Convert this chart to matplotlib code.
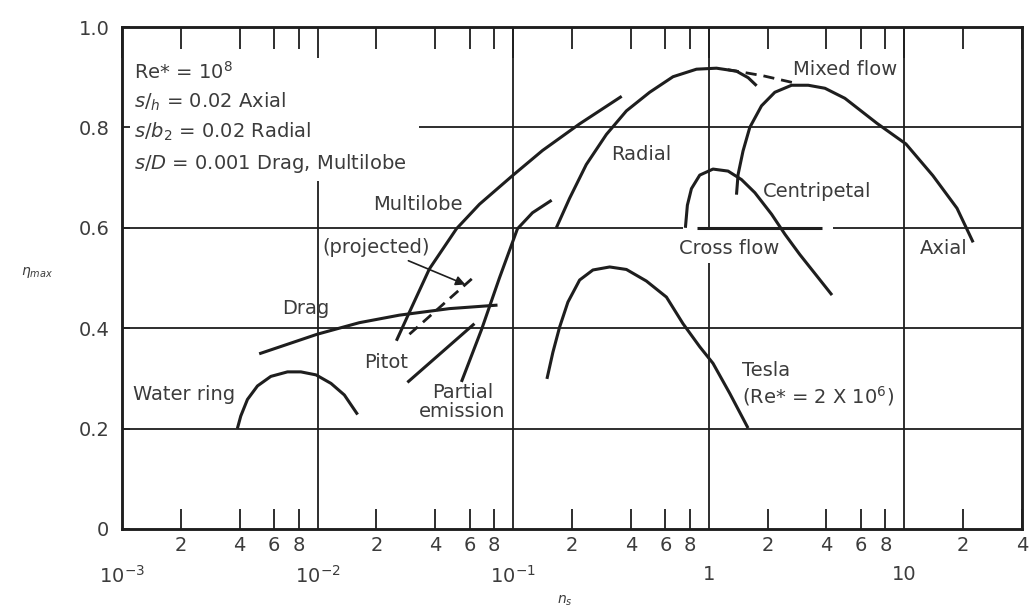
import matplotlib.pyplot as plt

INK = "#1e1e1e"
TEXT = "#3c3c3c"

# efficiency curves, specific speed n_s vs eta_max
water_ring_x = [0.00389, 0.00405, 0.00438, 0.00493, 0.00577, 0.00702, 0.00822, 0.00982, 0.01172, 0.01371, 0.01603]
water_ring_y = [0.200, 0.225, 0.258, 0.285, 0.304, 0.313, 0.313, 0.307, 0.290, 0.267, 0.228]

drag_x = [0.00503, 0.00996, 0.01636, 0.0262, 0.0472, 0.0832]
drag_y = [0.349, 0.388, 0.411, 0.426, 0.439, 0.446]

multilobe_x = [0.0253, 0.0295, 0.0373, 0.0513, 0.0673, 0.0993, 0.1413, 0.2186, 0.359]
multilobe_y = [0.375, 0.432, 0.518, 0.598, 0.647, 0.704, 0.754, 0.807, 0.862]

projected_x = [0.0295, 0.0634]
projected_y = [0.388, 0.503]

pitot_x = [0.0288, 0.0634]
pitot_y = [0.292, 0.409]

partial_x = [0.0544, 0.0689, 0.0851, 0.1052, 0.1256, 0.1574]
partial_y = [0.293, 0.397, 0.500, 0.598, 0.630, 0.655]

radial_x = [0.1663, 0.1945, 0.2366, 0.2998, 0.3796, 0.499, 0.657, 0.866, 1.096, 1.387, 1.592, 1.758]
radial_y = [0.600, 0.659, 0.726, 0.786, 0.833, 0.870, 0.901, 0.916, 0.918, 0.912, 0.899, 0.883]

mixed_x = [1.253, 1.89, 2.86]
mixed_y = [0.915, 0.903, 0.887]

axial_x = [1.387, 1.413, 1.498, 1.622, 1.862, 2.178, 2.653, 3.228, 3.93, 4.97, 7.26, 10.2, 14.0, 18.6, 22.5]
axial_y = [0.666, 0.706, 0.753, 0.800, 0.843, 0.870, 0.884, 0.884, 0.878, 0.858, 0.808, 0.767, 0.704, 0.639, 0.571]

cross_x = [0.760, 0.778, 0.816, 0.900, 1.052, 1.256, 1.472, 1.722, 2.097, 2.455, 2.92, 4.27]
cross_y = [0.600, 0.645, 0.678, 0.705, 0.717, 0.713, 0.696, 0.670, 0.627, 0.587, 0.547, 0.466]

cross_bar_x = [0.869, 3.79]
cross_bar_y = [0.6, 0.6]

tesla_x = [0.1489, 0.1597, 0.1728, 0.1906, 0.2188, 0.2559, 0.3117, 0.3796, 0.480, 0.608, 0.739, 0.900, 1.052, 1.282, 1.589]
tesla_y = [0.299, 0.352, 0.402, 0.452, 0.496, 0.516, 0.522, 0.517, 0.494, 0.462, 0.409, 0.363, 0.330, 0.270, 0.201]

# grid segments (value, start, end)
hgrid = [(0.2, 1e-3, 40), (0.4, 1e-3, 40), (0.6, 1e-3, 0.74), (0.6, 4.3, 40), (0.8, 0.0332, 40)]
vgrid = [(1e-2, 0, 0.693), (1e-1, 0, 1), (1, 0, 0.53), (1, 0.6, 1), (10, 0, 1)]

decades = [1e-3, 1e-2, 1e-1, 1, 10]
decade_labels = ["$10^{-3}$", "$10^{-2}$", "$10^{-1}$", "1", "10"]
minor_ticks = [m * d for d in [1e-3, 1e-2, 1e-1, 1] for m in (2, 4, 6, 8)] + [20, 40]
minor_labels = ["2", "4", "6", "8"] * 4 + ["2", "4"]
y_ticks = [0, 0.2, 0.4, 0.6, 0.8, 1.0]
y_labels = ["0", "0.2", "0.4", "0.6", "0.8", "1.0"]

plt.rcParams["font.family"] = ["DejaVu Sans"]
plt.rcParams["mathtext.fontset"] = "dejavusans"

fig = plt.figure(figsize=(10.31, 6.10), dpi=100)
ax = fig.add_axes([0.1183, 0.1328, 0.873, 0.8229])
ax.set_xscale("log")
ax.set_xlim(1e-3, 40)
ax.set_ylim(0, 1.0)

for y, x0, x1 in hgrid:
    ax.hlines(y, x0, x1, color=INK, lw=1.3, zorder=1)
for x, y0, y1 in vgrid:
    ax.vlines(x, y0, y1, color=INK, lw=1.3, zorder=1)

solid = dict(color=INK, lw=2.2, solid_capstyle="butt", solid_joinstyle="round", zorder=3)
ax.plot(water_ring_x, water_ring_y, **solid)
ax.plot(drag_x, drag_y, **solid)
ax.plot(multilobe_x, multilobe_y, **solid)
ax.plot(pitot_x, pitot_y, **solid)
ax.plot(partial_x, partial_y, **solid)
ax.plot(radial_x, radial_y, **solid)
ax.plot(axial_x, axial_y, **solid)
ax.plot(cross_x, cross_y, **solid)
ax.plot(cross_bar_x, cross_bar_y, **solid)
ax.plot(tesla_x, tesla_y, **solid)
ax.plot(projected_x, projected_y, color=INK, lw=2.0, dashes=(4, 2.5), zorder=3)
ax.plot(mixed_x, mixed_y, color=INK, lw=2.0, dashes=(4, 2.5), zorder=3)

fs = 14
tx = dict(color=TEXT, fontsize=fs, va="center")
ax.text(0.00115, 0.91, "Re* = 10$^{8}$", **tx)
ax.text(0.00115, 0.851, "$s/_{h}$ = 0.02 Axial", **tx)
ax.text(0.00115, 0.791, "$s/b_2$ = 0.02 Radial", **tx)
ax.text(0.00115, 0.729, "$s/D$ = 0.001 Drag, Multilobe", **tx)
ax.text(0.0324, 0.646, "Multilobe", ha="center", **tx)
ax.annotate("(projected)", xy=(0.057, 0.487), xytext=(0.0200, 0.561),
            ha="center", color=TEXT, fontsize=fs, va="center",
            arrowprops=dict(arrowstyle="-|>", color=INK, lw=1.2, shrinkA=2, shrinkB=0))
ax.text(0.00875, 0.44, "Drag", ha="center", **tx)
ax.text(0.0225, 0.332, "Pitot", ha="center", **tx)
ax.text(0.0551, 0.253, "Partial\nemission", ha="center", linespacing=1.05, **tx)
ax.text(0.00208, 0.267, "Water ring", ha="center", **tx)
ax.text(0.454, 0.747, "Radial", ha="center", **tx)
ax.text(4.98, 0.915, "Mixed flow", ha="center", **tx)
ax.text(3.57, 0.672, "Centripetal", ha="center", **tx)
ax.text(1.27, 0.559, "Cross flow", ha="center", **tx)
ax.text(16.0, 0.558, "Axial", ha="center", **tx)
ax.text(1.476, 0.316, "Tesla", ha="left", **tx)
ax.text(1.476, 0.265, "(Re* = 2 X 10$^{6}$)", ha="left", **tx)

# bottom axis: minor digits close to spine, decades below them
ax.set_xticks(decades, decade_labels)
ax.set_xticks(minor_ticks, minor_labels, minor=True)
ax.tick_params(axis="x", which="major", length=0, pad=26, labelsize=fs, labelcolor=TEXT)
ax.tick_params(axis="x", which="minor", direction="in", length=14.5, width=1.3,
               color=INK, pad=5, labelsize=fs, labelcolor=TEXT)
ax.set_yticks(y_ticks, y_labels)
ax.tick_params(axis="y", direction="in", length=6, width=1.3, color=INK, pad=9,
               labelsize=fs, labelcolor=TEXT)

top = ax.twiny()
top.set_xscale("log")
top.set_xlim(ax.get_xlim())
top.set_xticks(decades, [""] * len(decades))
top.set_xticks(minor_ticks, [""] * len(minor_ticks), minor=True)
top.tick_params(axis="x", which="major", direction="in", length=22, width=1.3, color=INK)
top.tick_params(axis="x", which="minor", direction="in", length=16, width=1.3, color=INK)

for a in (ax, top):
    for s in a.spines.values():
        s.set_linewidth(1.8)
        s.set_color(INK)

ax.set_ylabel(r"$\eta_{max}$", rotation=0, color=TEXT, fontsize=10)
ax.yaxis.set_label_coords(-0.094, 0.496)
ax.set_xlabel("$n_s$", color=TEXT, fontsize=10)
ax.xaxis.set_label_coords(0.492, -0.128)

fig.savefig("out.png", dpi=100)
